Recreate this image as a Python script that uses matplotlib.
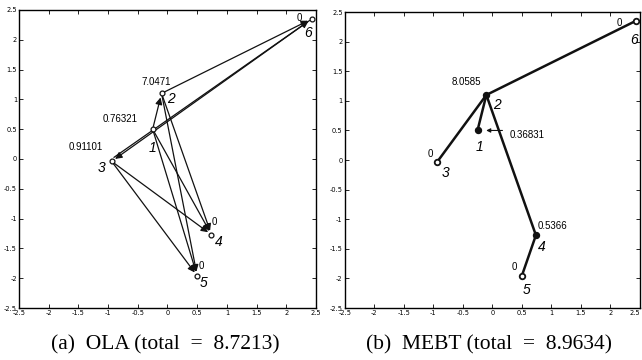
import numpy as np
import matplotlib.pyplot as plt

# node positions
node_x = [-0.25, -0.1, -0.94, 0.74, 0.5, 2.43]
node_y = [0.5, 1.1, -0.04, -1.27, -1.96, 2.35]
node_ids = ['1', '2', '3', '4', '5', '6']

# OLA: directed edges (from, to), 1-based
ola_edges = [(1, 2), (2, 6), (1, 6), (6, 3), (1, 4), (1, 5), (2, 4), (2, 5), (3, 4), (3, 5)]
ola_vals = ['0.76321', '7.0471', '0.91101', '0', '0', '0']
ola_total = '8.7213'

# MEBT: tree edges
mebt_edges = [(2, 6), (2, 3), (2, 1), (2, 4), (4, 5)]
mebt_vals = ['0.36831', '8.0585', '0', '0.5366', '0', '0']
mebt_filled = [True, True, False, True, False, False]
mebt_total = '8.9634'

fig = plt.figure(figsize=(6.42, 3.6), dpi=100)
ax1 = fig.add_axes([0.0296, 0.1444, 0.4626, 0.828])
ax2 = fig.add_axes([0.537, 0.1444, 0.4595, 0.822])

ticks = [-2.5, -2, -1.5, -1, -0.5, 0, 0.5, 1, 1.5, 2, 2.5]
for ax in (ax1, ax2):
    ax.set_xlim(-2.5, 2.5)
    ax.set_ylim(-2.5, 2.5)
    ax.set_xticks(ticks)
    ax.set_yticks(ticks)
    ax.set_xticklabels(['%g' % t for t in ticks])
    ax.set_yticklabels(['%g' % t for t in ticks])
    ax.tick_params(direction='in', length=3, width=0.6, labelsize=4.8, pad=1.5,
                   top=True, right=True)
    for s in ax.spines.values():
        s.set_linewidth(1.0)
# last x label on the right panel sits at the figure edge
ax2.get_xticklabels()[-1].set_ha('right')

# OLA arrows
for a, b in ola_edges:
    x0, y0 = node_x[a - 1], node_y[a - 1]
    x1, y1 = node_x[b - 1], node_y[b - 1]
    if (a, b) == (1, 6):
        x0, y0 = node_x[2], node_y[2] + 0.04
    ax1.annotate('', xy=(x1, y1), xytext=(x0, y0),
                 arrowprops=dict(arrowstyle='-|>', color='#111111', lw=0.9,
                                 mutation_scale=10, shrinkA=2, shrinkB=3))
ax1.plot(node_x, node_y, 'o', ms=3.5, mfc='white', mec='#111111', mew=0.9, zorder=5)

# label positions: left edge x, vertical centre y
ola_val_pos = [(-1.1, 0.67), (-0.43, 1.29), (-1.66, 0.2), (0.75, -1.06), (0.53, -1.8), (2.18, 2.37)]
ola_id_pos = [(-0.31, 0.18), (0.0, 1.0), (-1.17, -0.15), (0.8, -1.39), (0.55, -2.08), (2.3, 2.11)]
for i in range(6):
    ax1.text(*ola_val_pos[i], ola_vals[i], fontsize=7, va='center', family='Liberation Sans')
    ax1.text(*ola_id_pos[i], node_ids[i], fontsize=10, va='center', style='italic',
             family='Liberation Sans')

# MEBT tree
for a, b in mebt_edges:
    ax2.plot([node_x[a - 1], node_x[b - 1]], [node_y[a - 1], node_y[b - 1]],
             color='#111111', lw=1.8, solid_capstyle='round')
for i in range(6):
    ax2.plot(node_x[i], node_y[i], 'o', ms=4, mfc='#111111' if mebt_filled[i] else 'white',
             mec='#111111', mew=1.3, zorder=5)

mebt_val_pos = [(0.3, 0.42), (-0.69, 1.32), (-1.09, 0.1), (0.77, -1.12), (0.33, -1.8), (2.11, 2.31)]
mebt_id_pos = [(-0.28, 0.22), (0.01, 0.93), (-0.86, -0.22), (0.77, -1.47), (0.52, -2.2), (2.33, 2.03)]
for i in range(6):
    ax2.text(*mebt_val_pos[i], mebt_vals[i], fontsize=7, va='center', family='Liberation Sans')
    ax2.text(*mebt_id_pos[i], node_ids[i], fontsize=10, va='center', style='italic',
             family='Liberation Sans')
ax2.annotate('', xy=(node_x[0] + 0.1, node_y[0]), xytext=(0.22, node_y[0]),
             arrowprops=dict(arrowstyle='-|>', color='#111111', lw=0.8, mutation_scale=6))

fig.text(0.257, 0.042, '(a)  OLA (total  =  %s)' % ola_total, ha='center', va='center',
         fontsize=15.5, family='Liberation Serif')
fig.text(0.762, 0.042, '(b)  MEBT (total  =  %s)' % mebt_total, ha='center', va='center',
         fontsize=15.5, family='Liberation Serif')

fig.savefig('out.png', dpi=100)
